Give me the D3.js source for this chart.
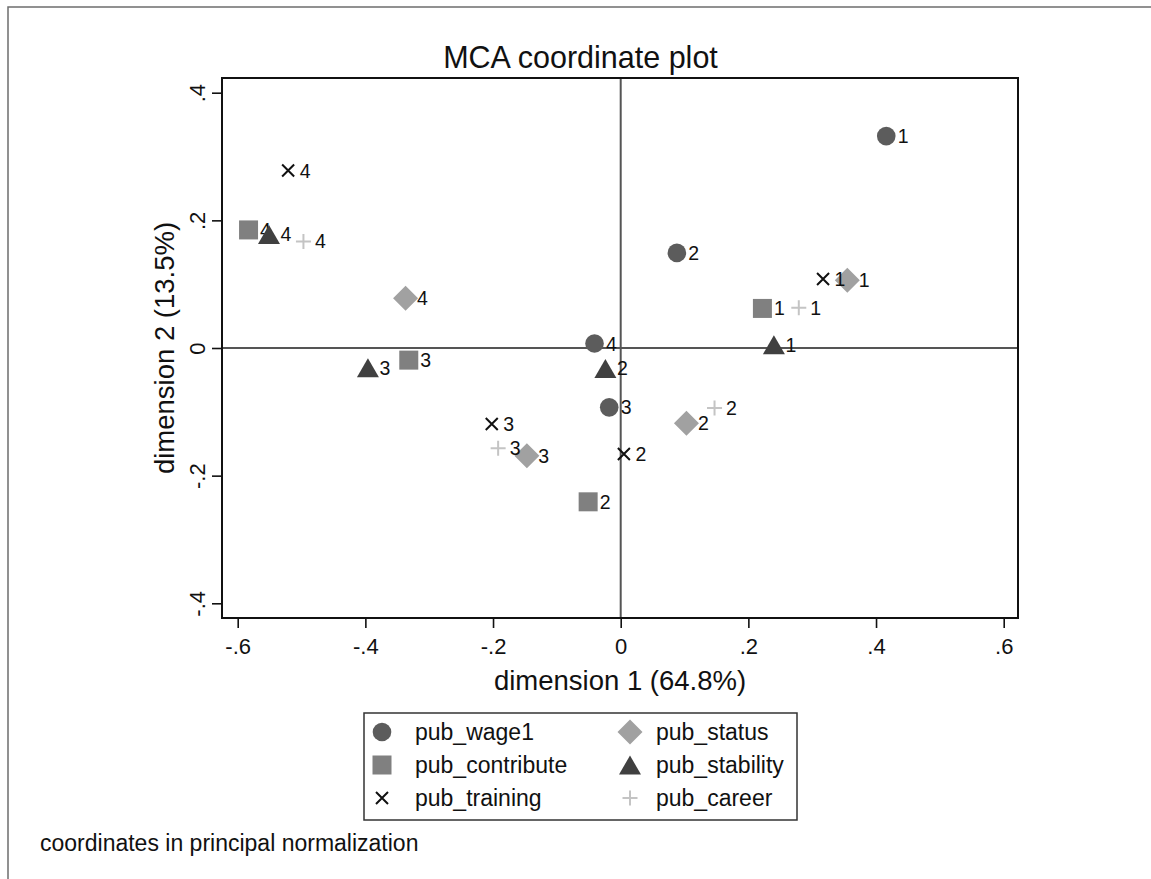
<!DOCTYPE html>
<html>
<head>
<meta charset="utf-8">
<script src="https://cdn.jsdelivr.net/npm/d3@7"></script>
<style>
  html, body { margin: 0; padding: 0; background: #fff; }
  svg { display: block; font-family: "Liberation Sans", Arial, sans-serif; }
</style>
</head>
<body>
<svg id="chart" width="1151" height="879"></svg>
<script>
// MCA category coordinates (principal normalization), one array per variable
const categories = ["1", "2", "3", "4"];
const wage1Dim1      = [0.416, 0.088, -0.018, -0.041];
const wage1Dim2      = [0.332, 0.149, -0.093, 0.007];
const statusDim1     = [0.355, 0.103, -0.147, -0.337];
const statusDim2     = [0.106, -0.118, -0.169, 0.078];
const contributeDim1 = [0.222, -0.051, -0.332, -0.583];
const contributeDim2 = [0.062, -0.241, -0.019, 0.185];
const stabilityDim1  = [0.240, -0.024, -0.396, -0.551];
const stabilityDim2  = [0.005, -0.032, -0.031, 0.178];
const trainingDim1   = [0.317, 0.005, -0.202, -0.521];
const trainingDim2   = [0.108, -0.166, -0.119, 0.278];
const careerDim1     = [0.279, 0.147, -0.192, -0.497];
const careerDim2     = [0.063, -0.094, -0.157, 0.167];

// Plot order follows the legend's row-wise order
const seriesNames = ["pub_wage1", "pub_status", "pub_contribute", "pub_stability", "pub_training", "pub_career"];
const seriesDim1 = [wage1Dim1, statusDim1, contributeDim1, stabilityDim1, trainingDim1, careerDim1];
const seriesDim2 = [wage1Dim2, statusDim2, contributeDim2, stabilityDim2, trainingDim2, careerDim2];

const xTickValues = [-0.6, -0.4, -0.2, 0, 0.2, 0.4, 0.6];
const xTickLabels = ["-.6", "-.4", "-.2", "0", ".2", ".4", ".6"];
const yTickValues = [-0.4, -0.2, 0, 0.2, 0.4];
const yTickLabels = ["-.4", "-.2", "0", ".2", ".4"];

// Marker styles per series
const styles = [
  { shape: "circle",   color: "#5c5c5c" },
  { shape: "diamond",  color: "#a1a1a1" },
  { shape: "square",   color: "#808080" },
  { shape: "triangle", color: "#404040" },
  { shape: "cross",    color: "#111111" },
  { shape: "plus",     color: "#c4c4c4" }
];

const svg = d3.select("#chart");

// outer graph frame
svg.append("rect")
  .attr("x", 8).attr("y", 7).attr("width", 1400).attr("height", 1000)
  .attr("fill", "none").attr("stroke", "#6e6e6e").attr("stroke-width", 1.5);

const plot = { left: 222, top: 78, right: 1018, bottom: 618 };
const graphCenterX = 580.5;

const x = d3.scaleLinear().domain([-0.6, 0.6]).range([237.7, 1003.7]);
const y = d3.scaleLinear().domain([-0.4, 0.4]).range([603.3, 92.7]);

// title
svg.append("text")
  .attr("x", graphCenterX).attr("y", 57)
  .attr("text-anchor", "middle").attr("dominant-baseline", "central")
  .attr("font-size", 30.5).attr("fill", "#111")
  .text("MCA coordinate plot");

// reference lines at the origin
svg.append("line")
  .attr("x1", plot.left).attr("x2", plot.right)
  .attr("y1", y(0)).attr("y2", y(0))
  .attr("stroke", "#555").attr("stroke-width", 2);
svg.append("line")
  .attr("x1", x(0)).attr("x2", x(0))
  .attr("y1", plot.top).attr("y2", plot.bottom)
  .attr("stroke", "#555").attr("stroke-width", 2);

// plot region border
svg.append("rect")
  .attr("x", plot.left).attr("y", plot.top)
  .attr("width", plot.right - plot.left).attr("height", plot.bottom - plot.top)
  .attr("fill", "none").attr("stroke", "#111").attr("stroke-width", 2);

// x axis
const xAxis = svg.append("g")
  .attr("transform", `translate(0,${plot.bottom})`)
  .call(d3.axisBottom(x).tickValues(xTickValues)
    .tickFormat((d, i) => xTickLabels[i]).tickSize(10).tickPadding(10));
xAxis.select(".domain").remove();
xAxis.selectAll(".tick line").attr("stroke", "#111").attr("stroke-width", 1.6);
xAxis.selectAll(".tick text")
  .attr("font-size", 22).attr("fill", "#111").attr("font-family", null);

// y axis with rotated labels
const yAxis = svg.append("g")
  .attr("transform", `translate(${plot.left},0)`)
  .call(d3.axisLeft(y).tickValues(yTickValues)
    .tickFormat((d, i) => yTickLabels[i]).tickSize(10));
yAxis.select(".domain").remove();
yAxis.selectAll(".tick line").attr("stroke", "#111").attr("stroke-width", 1.6);
yAxis.selectAll(".tick text")
  .attr("font-size", 22).attr("fill", "#111").attr("font-family", null)
  .attr("x", null).attr("dy", null)
  .attr("text-anchor", "middle").attr("dominant-baseline", "central")
  .attr("transform", "translate(-25,0) rotate(-90)");

// axis titles
svg.append("text")
  .attr("x", (plot.left + plot.right) / 2).attr("y", 680)
  .attr("text-anchor", "middle").attr("dominant-baseline", "central")
  .attr("font-size", 27.5).attr("fill", "#111")
  .text("dimension 1 (64.8%)");
svg.append("text")
  .attr("transform", `translate(164,${(plot.top + plot.bottom) / 2}) rotate(-90)`)
  .attr("text-anchor", "middle").attr("dominant-baseline", "central")
  .attr("font-size", 27.5).attr("fill", "#111")
  .text("dimension 2 (13.5%)");

// marker drawing
function drawMarker(g, shape, color, cx, cy) {
  if (shape === "circle") {
    g.append("circle").attr("cx", cx).attr("cy", cy).attr("r", 9.3).attr("fill", color);
  } else if (shape === "square") {
    g.append("rect").attr("x", cx - 9.5).attr("y", cy - 9.5)
      .attr("width", 19).attr("height", 19).attr("fill", color);
  } else if (shape === "diamond") {
    const r = 12.5;
    g.append("path")
      .attr("d", `M${cx},${cy - r}L${cx + r},${cy}L${cx},${cy + r}L${cx - r},${cy}Z`)
      .attr("fill", color);
  } else if (shape === "triangle") {
    const w = 11, h = 19;
    g.append("path")
      .attr("d", `M${cx},${cy - h / 2}L${cx + w},${cy + h / 2}L${cx - w},${cy + h / 2}Z`)
      .attr("fill", color);
  } else if (shape === "cross") {
    const a = 6;
    g.append("path")
      .attr("d", `M${cx - a},${cy - a}L${cx + a},${cy + a}M${cx - a},${cy + a}L${cx + a},${cy - a}`)
      .attr("stroke", color).attr("stroke-width", 2).attr("fill", "none");
  } else if (shape === "plus") {
    const a = 7.5;
    g.append("path")
      .attr("d", `M${cx - a},${cy}L${cx + a},${cy}M${cx},${cy - a}L${cx},${cy + a}`)
      .attr("stroke", color).attr("stroke-width", 2).attr("fill", "none");
  }
}

// points and their category labels
seriesNames.forEach((name, s) => {
  const g = svg.append("g").attr("class", "series");
  const st = styles[s];
  categories.forEach((cat, i) => {
    const px = x(seriesDim1[s][i]);
    const py = y(seriesDim2[s][i]);
    drawMarker(g, st.shape, st.color, px, py);
    g.append("text")
      .attr("x", px + 11.5).attr("y", py)
      .attr("dominant-baseline", "central")
      .attr("font-size", 19.5).attr("fill", "#111")
      .text(cat);
  });
});

// legend
const legend = svg.append("g");
legend.append("rect")
  .attr("x", 364).attr("y", 713).attr("width", 433).attr("height", 107)
  .attr("fill", "none").attr("stroke", "#333").attr("stroke-width", 1.5);
const legendCols = [382, 630];
const legendTextX = [415, 656];
const legendRows = [732, 765, 798];
seriesNames.forEach((name, s) => {
  const col = s % 2, row = Math.floor(s / 2);
  drawMarker(legend, styles[s].shape, styles[s].color, legendCols[col], legendRows[row]);
  legend.append("text")
    .attr("x", legendTextX[col]).attr("y", legendRows[row])
    .attr("dominant-baseline", "central")
    .attr("font-size", 23).attr("fill", "#111")
    .text(name);
});

// note
svg.append("text")
  .attr("x", 40).attr("y", 843)
  .attr("dominant-baseline", "central")
  .attr("font-size", 23).attr("fill", "#111")
  .text("coordinates in principal normalization");
</script>
</body>
</html>
